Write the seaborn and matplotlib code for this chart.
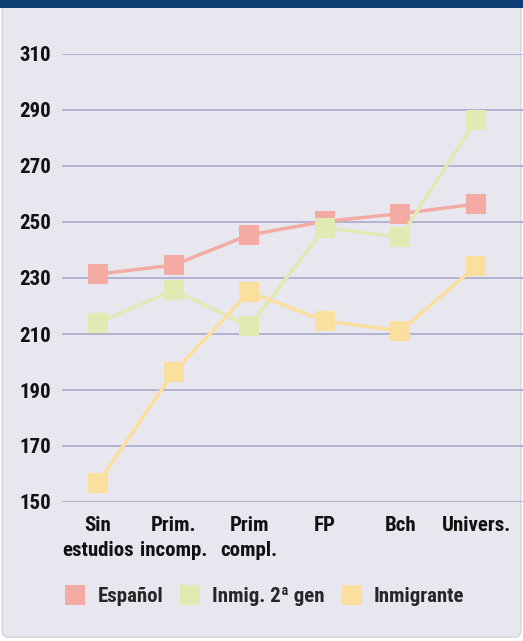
import matplotlib
matplotlib.use('Agg')
import matplotlib.pyplot as plt
from matplotlib.lines import Line2D
from matplotlib.patches import Rectangle, FancyBboxPatch
import pandas as pd
import seaborn as sns

categories = ['Sin\nestudios', 'Prim.\nincomp.', 'Prim\ncompl.', 'FP', 'Bch', 'Univers.']
series_names = ['Español', 'Inmig. 2ª gen', 'Inmigrante']
espanol = [231.4, 234.6, 245.4, 250.2, 253.0, 256.4]
inmig_2gen = [214.0, 225.7, 212.7, 247.9, 244.6, 286.4]
inmigrante = [156.8, 196.4, 225.0, 214.6, 211.1, 234.3]
yticks = [150, 170, 190, 210, 230, 250, 270, 290, 310]

colors = ['#f4aba3', '#e0ebb3', '#fbdf9e']
bg = '#e8e7f0'

sns.set_style('white')
plt.rcParams['font.family'] = ['Roboto Condensed', 'DejaVu Sans']

fig = plt.figure(figsize=(5.23, 6.41), dpi=100, facecolor='white')
# panel with rounded corners + dark band on top
fig.patches.append(FancyBboxPatch((0.004, 0.006), 0.992, 0.99, boxstyle='round,pad=0,rounding_size=0.012',
                                  transform=fig.transFigure, facecolor=bg, edgecolor='#d3d3dc', lw=1, zorder=-2))
fig.patches.append(Rectangle((0, 1 - 8 / 641), 1, 8 / 641, transform=fig.transFigure,
                             facecolor='#0e3f74', edgecolor='none', zorder=-1))

ax = fig.add_axes([62 / 523, 1 - 502 / 641, 461 / 523, 448 / 641])
ax.set_facecolor('none')

df = pd.DataFrame({
    'cat': categories * 3,
    'val': espanol + inmig_2gen + inmigrante,
    'serie': sum([[s] * len(categories) for s in series_names], []),
})
xpos = list(range(len(categories)))
for name, col in zip(series_names, colors):
    sub = df[df['serie'] == name]
    sns.lineplot(x=xpos, y=sub['val'].values, ax=ax, color=col, lw=2.5, marker='s',
                 markersize=15, markeredgewidth=0, clip_on=False, legend=False)

ax.set_ylim(150, 310)
ax.set_xlim(-0.476, 5.62)
ax.set_yticks(yticks)
ax.set_yticklabels([str(t) for t in yticks])
ax.set_xticks(xpos)
ax.set_xticklabels(categories, linespacing=1.38)
for s in ax.spines.values():
    s.set_visible(False)
ax.grid(axis='y', color='#a9a9cc', lw=1.2)
ax.set_axisbelow(True)
ax.tick_params(axis='both', length=0, labelsize=15, colors='#111111')
ax.tick_params(axis='y', pad=8)
ax.tick_params(axis='x', pad=10)
for lab in ax.get_yticklabels() + ax.get_xticklabels():
    lab.set_fontweight('bold')

handles = [Line2D([], [], ls='none', marker='s', markersize=15, markeredgewidth=0, color=c) for c in colors]
fig.legend(handles, series_names, loc='center left', bbox_to_anchor=(65 / 523, 1 - 597 / 641),
           ncol=3, frameon=False, handlelength=1.0, handletextpad=0.55, columnspacing=0.8,
           borderpad=0, borderaxespad=0, prop={'size': 15, 'weight': 'bold'})

fig.savefig('out.png', dpi=100, facecolor='white')
